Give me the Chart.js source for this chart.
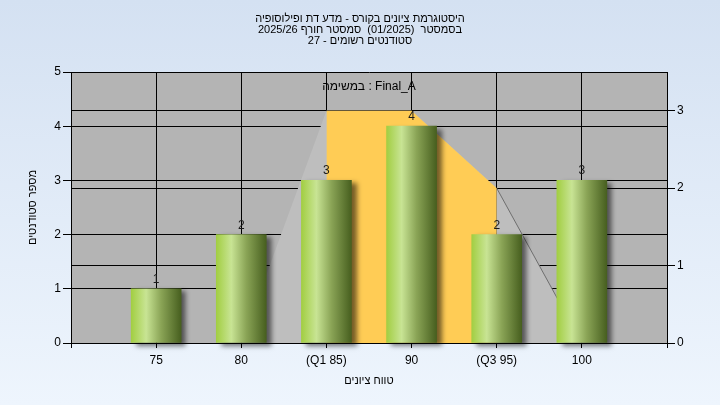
<!DOCTYPE html>
<html><head><meta charset="utf-8">
<script src="https://cdn.jsdelivr.net/npm/chart.js@4"></script>
<style>
html,body{margin:0;padding:0;}
body{width:720px;height:405px;background:linear-gradient(to bottom,#d4e1f2,#eef5fd);overflow:hidden;}
#wrap{width:720px;height:405px;position:relative;}
</style></head><body>
<div id="wrap"><canvas id="c" width="720" height="405"></canvas></div>
<script>
const categories = ['75','80','(Q1 85)','90','(Q3 95)','100'];
const studentCounts = [1,2,3,4,2,3];
const distributionCurve = [0,0,3,3,2,0];
const quartileBand = [null,null,3,3,2,null];
const leftTicks = [0,1,2,3,4,5];
const rightTicks = [0,1,2,3];
const titleLines = ['היסטוגרמת ציונים בקורס - מדע דת ופילוסופיה','בסמסטר  (01/2025)  סמסטר חורף 2025/26','סטודנטים רשומים - 27'];
const assignmentLabel = 'במשימה : Final_A';
const yTitle = 'מספר סטודנטים';
const xTitle = 'טווח ציונים';

const F = "'Liberation Sans', Arial, sans-serif";
const pad = arr => [null, ...arr, null];
const labels = ['', ...categories, ''];

const plotBg = {
  id:'plotBg',
  beforeDraw(chart){
    const {ctx, chartArea:a} = chart;
    ctx.save(); ctx.fillStyle='#b4b4b4';
    ctx.fillRect(a.left, a.top, a.right-a.left, a.bottom-a.top);
    ctx.restore();
  }
};
const barShadow = {
  id:'barShadow',
  beforeDatasetDraw(chart, args){
    if (args.meta.type === 'bar'){
      const ctx = chart.ctx; ctx.save();
      ctx.shadowColor='rgba(0,0,0,0.55)'; ctx.shadowBlur=5; ctx.shadowOffsetX=5; ctx.shadowOffsetY=3;
    }
  },
  afterDatasetDraw(chart, args){
    if (args.meta.type === 'bar') chart.ctx.restore();
  }
};
const texts = {
  id:'texts',
  afterDatasetsDraw(chart){
    const ctx = chart.ctx;
    ctx.save();
    ctx.font = '12px ' + F; ctx.fillStyle = '#1a1a1a'; ctx.textAlign='center'; ctx.textBaseline='alphabetic';
    chart.data.datasets.forEach((ds, i) => {
      const meta = chart.getDatasetMeta(i);
      if (meta.type !== 'bar') return;
      meta.data.forEach((el, j) => {
        const v = ds.data[j];
        if (v == null) return;
        ctx.fillText(String(v), el.x, el.y - 6);
      });
    });
    const a = chart.chartArea;
    ctx.fillStyle = '#000';
    ctx.textBaseline='middle';
    ctx.fillText(assignmentLabel, (a.left + a.right)/2, a.top + 15);
    ctx.restore();
  }
};

function barGradient(c){
  const chart = c.chart;
  if (!chart.chartArea || c.type !== 'data' || !chart.scales.x) return '#a0c850';
  const x = chart.scales.x.getPixelForValue(c.dataIndex);
  const w = 50;
  const g = chart.ctx.createLinearGradient(x - w/2, 0, x + w/2, 0);
  g.addColorStop(0, '#a2ce42');
  g.addColorStop(0.3, '#c8e494');
  g.addColorStop(0.6, '#8aa456');
  g.addColorStop(1, '#475f1f');
  return g;
}

new Chart(document.getElementById('c'), {
  type:'bar',
  data:{
    labels: labels,
    datasets:[
      {type:'bar', data: pad(studentCounts), yAxisID:'y', backgroundColor: barGradient, borderWidth:0, barThickness:50, order:0, clip:false},
      {type:'line', data: pad(quartileBand), yAxisID:'y2', fill:'origin', backgroundColor:'#ffcc55', borderWidth:0, pointRadius:0, tension:0, order:1},
      {type:'line', data: pad(distributionCurve), yAxisID:'y2', fill:'origin', backgroundColor:'#bebebe', borderWidth:1, borderColor:'rgba(0,0,0,0)',
        segment:{borderColor: c => c.p0DataIndex >= 5 ? '#6e6e6e' : 'rgba(0,0,0,0)'}, pointRadius:0, tension:0, order:2}
    ]
  },
  options:{
    responsive:false, animation:false, devicePixelRatio:1,
    layout:{padding:0},
    plugins:{
      legend:{display:false}, tooltip:{enabled:false},
      title:{display:true, text:titleLines, color:'#000', font:{size:11, family:F, weight:'normal', lineHeight:1.0}, padding:{top:13,bottom:26}}
    },
    scales:{
      x:{
        type:'category', offset:false,
        grid:{offset:false, color:'#000', lineWidth:1, tickLength:5, tickColor:'#000'},
        border:{color:'#000'},
        ticks:{color:'#000', font:{size:12, family:F}, padding:5, autoSkip:false, maxRotation:0},
        title:{display:true, text:xTitle, color:'#000', font:{size:11, family:F}, padding:{top:0,bottom:17}},
        afterFit(s){ s.height = 62; }
      },
      y:{
        position:'left', min:0, max:5,
        afterBuildTicks(s){ s.ticks = leftTicks.map(v => ({value:v})); },
        ticks:{color:'#000', font:{size:12, family:F}, padding:2},
        grid:{color:'#000', tickLength:8, tickColor:'#000'},
        border:{color:'#000'},
        title:{display:true, text:yTitle, color:'#000', font:{size:11, family:F}, padding:{top:26,bottom:0}},
        afterFit(s){ s.width = 71; }
      },
      y2:{
        position:'right', min:0, max:3.5,
        afterBuildTicks(s){ s.ticks = rightTicks.map(v => ({value:v})); },
        ticks:{color:'#000', font:{size:12, family:F}, padding:2},
        grid:{color:'#000', tickLength:8, tickColor:'#000'},
        border:{color:'#000'},
        afterFit(s){ s.width = 53; }
      }
    }
  },
  plugins:[plotBg, barShadow, texts]
});
</script>
</body></html>
